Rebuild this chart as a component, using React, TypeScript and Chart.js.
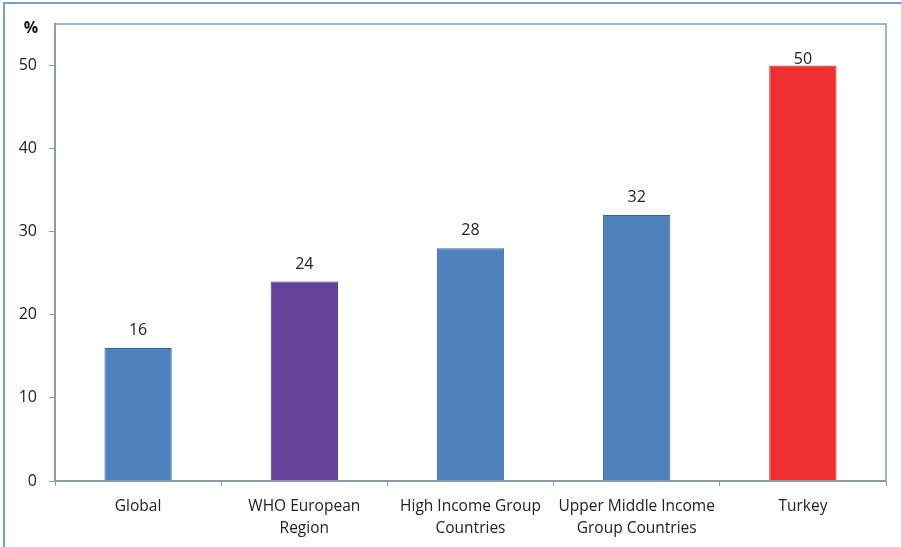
import React, { useEffect, useRef } from "react";
import { Chart, registerables } from "chart.js";

Chart.register(...registerables);

const categories: string[][] = [
  ["Global"],
  ["WHO European", "Region"],
  ["High Income Group", "Countries"],
  ["Upper Middle Income", "Group Countries"],
  ["Turkey"],
];
const values: number[] = [16, 24, 28, 32, 50];
const fillColors: string[] = ["#4F81BD", "#65439A", "#4F81BD", "#4F81BD", "#EE2F2F"];
const borderColors: string[] = ["#3A6596", "#4D3178", "#3A6596", "#3A6596", "#C42A2A"];
const yTicks: number[] = [0, 10, 20, 30, 40, 50];

const FONT = "'Open Sans', Lato, sans-serif";

const framePlugin = {
  id: "frame",
  beforeDraw(chart: any) {
    const { ctx, width, height } = chart;
    ctx.save();
    ctx.fillStyle = "#ffffff";
    ctx.fillRect(0, 0, width, height);
    ctx.strokeStyle = "#74A0D6";
    ctx.lineWidth = 2;
    ctx.beginPath();
    ctx.moveTo(4, height + 2);
    ctx.lineTo(4, 3);
    ctx.lineTo(width + 2, 3);
    ctx.stroke();
    ctx.restore();
  },
  afterDraw(chart: any) {
    const { ctx, chartArea } = chart;
    const { left, top, right, bottom } = chartArea;
    ctx.save();
    ctx.strokeStyle = "#74A0D6";
    ctx.lineWidth = 1.5;
    ctx.beginPath();
    ctx.moveTo(left, top);
    ctx.lineTo(right, top);
    ctx.lineTo(right, bottom);
    ctx.stroke();
    ctx.strokeStyle = "#8C9BAA";
    ctx.lineWidth = 2;
    ctx.beginPath();
    ctx.moveTo(left, top - 1);
    ctx.lineTo(left, bottom);
    ctx.lineTo(right, bottom);
    ctx.stroke();
    // % label
    ctx.fillStyle = "#111";
    ctx.font = `bold 16px ${FONT}`;
    ctx.textAlign = "center";
    ctx.textBaseline = "middle";
    ctx.fillText("%", left - 24, top + 4);
    // data labels
    const meta = chart.getDatasetMeta(0);
    ctx.font = `16px ${FONT}`;
    ctx.fillStyle = "#222";
    ctx.textBaseline = "alphabetic";
    meta.data.forEach((bar: any, i: number) => {
      let y = bar.y - 13;
      if (y - 14 < top + 20) y = bar.y - 2;
      ctx.fillText(String(values[i]), bar.x, y);
    });
    ctx.restore();
  },
};

export default function App() {
  const ref = useRef<HTMLCanvasElement | null>(null);
  useEffect(() => {
    if (!ref.current) return;
    const chart = new Chart(ref.current, {
      type: "bar",
      data: {
        labels: categories,
        datasets: [
          {
            data: values,
            backgroundColor: fillColors,
            borderColor: borderColors,
            borderWidth: 1,
            categoryPercentage: 1,
            barPercentage: 0.405,
          },
        ],
      },
      options: {
        animation: false,
        responsive: false,
        maintainAspectRatio: false,
        layout: { padding: { left: 0, top: 24, right: 15, bottom: 0 } },
        plugins: { legend: { display: false }, tooltip: { enabled: false } },
        scales: {
          x: {
            offset: true,
            grid: {
              offset: true,
              drawOnChartArea: false,
              drawTicks: true,
              tickLength: 5,
              color: "#8C9BAA",
              lineWidth: 1,
            },
            border: { display: false },
            ticks: {
              color: "#222",
              font: { family: FONT, size: 15.5, lineHeight: 1.42 },
              padding: 10,
              maxRotation: 0,
              autoSkip: false,
            },
            afterFit(scale: any) {
              scale.height = 66;
            },
          },
          y: {
            min: 0,
            max: 55,
            afterBuildTicks(scale: any) {
              scale.ticks = yTicks.map((v) => ({ value: v }));
            },
            grid: {
              drawOnChartArea: false,
              drawTicks: true,
              tickLength: 6,
              color: "#8C9BAA",
            },
            border: { display: false },
            ticks: {
              color: "#222",
              font: { family: FONT, size: 16 },
              padding: 12,
            },
            afterFit(scale: any) {
              scale.width = 55;
            },
          },
        },
      },
      plugins: [framePlugin],
    });
    return () => chart.destroy();
  }, []);
  return (
    <div style={{ position: "fixed", left: 0, top: 0, width: 901, height: 547, background: "#fff" }}>
      <canvas ref={ref} width={901} height={547} style={{ display: "block" }} />
    </div>
  );
}
